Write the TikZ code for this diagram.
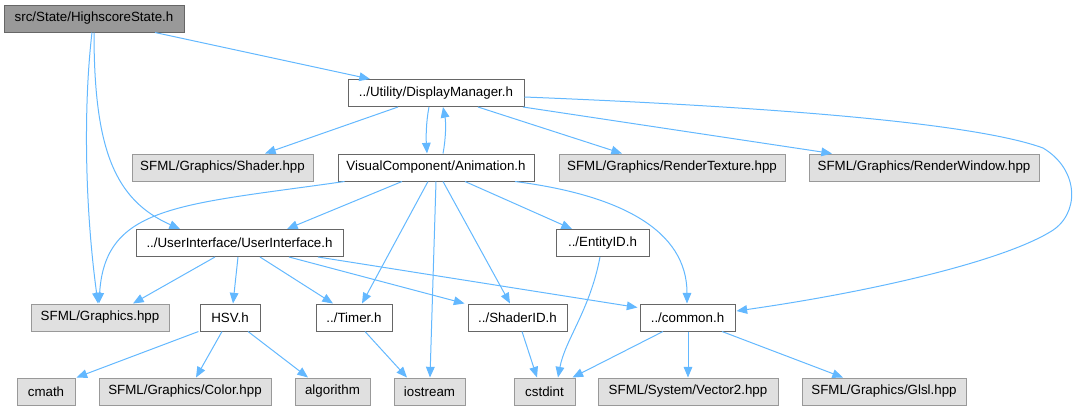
\documentclass[tikz,border=0pt]{standalone}
\usepackage{fontspec}
\setmainfont{Liberation Sans}
\usetikzlibrary{arrows.meta,calc}
\definecolor{edgeblue}{HTML}{63B8FF}
\definecolor{rootfill}{HTML}{999999}
\definecolor{darkborder}{HTML}{666666}
\definecolor{grayfill}{HTML}{E0E0E0}
\definecolor{grayborder}{HTML}{999999}
\begin{document}
\begin{tikzpicture}[x=0.75pt,y=-0.75pt,
  base/.style={rectangle,inner sep=0pt,line width=0.75pt,font=\fontsize{10pt}{12pt}\selectfont,minimum height=27*0.75pt},
  rootbox/.style={base,fill=rootfill,draw=darkborder},
  whitebox/.style={base,fill=white,draw=darkborder},
  graybox/.style={base,fill=grayfill,draw=grayborder},
  w/.style={minimum width=#1*0.75pt},
  dep/.style={draw=edgeblue,line width=0.75pt,-{Triangle[length=8pt,width=6.5pt]}}
]
\useasboundingbox (0,0) rectangle (1075,411);
% row 1
\node[rootbox,w=180] (root) at (94,18.5) {src/State/HighscoreState.h};
% row 2
\node[whitebox,w=176] (dm) at (436,93) {../Utility/DisplayManager.h};
% row 3
\node[graybox,w=181] (shader) at (222.5,167.5) {SFML/Graphics/Shader.hpp};
\node[whitebox,w=196] (anim) at (436,167.5) {VisualComponent/Animation.h};
\node[graybox,w=226] (rtex) at (672,167.5) {SFML/Graphics/RenderTexture.hpp};
\node[graybox,w=230] (rwin) at (924,167.5) {SFML/Graphics/RenderWindow.hpp};
% row 4
\node[whitebox,w=207] (ui) at (239.5,243) {../UserInterface/UserInterface.h};
\node[whitebox,w=93] (ent) at (602.5,243) {../EntityID.h};
% row 5
\node[graybox,w=138] (gfx) at (100,317.5) {SFML/Graphics.hpp};
\node[whitebox,w=60] (hsv) at (230,317.5) {HSV.h};
\node[whitebox,w=76] (timer) at (354,317.5) {../Timer.h};
\node[whitebox,w=99] (shid) at (517.5,317.5) {../ShaderID.h};
\node[whitebox,w=95] (common) at (687.5,317.5) {../common.h};
% row 6
\node[graybox,w=58] (cmath) at (46,391.5) {cmath};
\node[graybox,w=172] (color) at (185,391.5) {SFML/Graphics/Color.hpp};
\node[graybox,w=75] (algo) at (332.5,391.5) {algorithm};
\node[graybox,w=71] (ios) at (429.5,391.5) {iostream};
\node[graybox,w=61] (cstdint) at (544.5,391.5) {cstdint};
\node[graybox,w=180] (vec2) at (688,391.5) {SFML/System/Vector2.hpp};
\node[graybox,w=164] (glsl) at (884,391.5) {SFML/Graphics/Glsl.hpp};

% edges from root
\draw[dep] ($(root.south)+(61,0)$) -- ($(dm.north)+(-66,0)$);
\draw[dep] ($(root.south)+(-2,0)$) .. controls (84,100) and (84,200) .. ($(gfx.north)+(-2,0)$);
\draw[dep] ($(root.south)+(0,0)$) .. controls (94,150) and (115,200) .. ($(ui.north)+(-59.5,0)$);
% edges from DisplayManager
\draw[dep] ($(dm.south)+(-38,0)$) -- ($(shader.north)+(42.5,0)$);
\draw[dep] ($(dm.south)+(-7,0)$) .. controls (426,122) and (426,138) .. ($(anim.north)+(-9,0)$);
\draw[dep] ($(anim.north)+(7,0)$) .. controls (446,138) and (446,122) .. ($(dm.south)+(7,0)$);
\draw[dep] ($(dm.south)+(42,0)$) -- ($(rtex.north)+(-50,0)$);
\draw[dep] ($(dm.south)+(87,0)$) -- ($(rwin.north)+(-92,0)$);
\draw[dep] ($(dm.east)+(0,4)$) .. controls (800,108) and (980,125) .. (1043,148)
   .. controls (1080,170) and (1080,215) .. (1050,232)
   .. controls (1000,262) and (870,292) .. ($(common.east)+(1,-6.5)$);
% edges from Animation
\draw[dep] ($(anim.south west)+(7,0)$) .. controls (180,205) and (105,205) .. ($(gfx.north)+(-1,0)$);
\draw[dep] ($(anim.south)+(-34,0)$) -- ($(ui.north)+(47.5,0)$);
\draw[dep] ($(anim.south)+(-8,0)$) -- ($(timer.north)+(8,0)$);
\draw[dep] ($(anim.south)+(0,0)$) -- ($(ios.north)+(0.5,0)$);
\draw[dep] ($(anim.south)+(7,0)$) -- ($(shid.north)+(-7.5,0)$);
\draw[dep] ($(anim.south)+(29,0)$) -- ($(ent.north)+(-30.5,0)$);
\draw[dep] ($(anim.south)+(79,0)$) .. controls (620,195) and (687,230) .. ($(common.north)+(-0.5,0)$);
% edges from UserInterface
\draw[dep] ($(ui.south)+(-24.5,0)$) -- ($(gfx.north)+(33,0)$);
\draw[dep] ($(ui.south)+(-1.5,0)$) -- ($(hsv.north)+(3,0)$);
\draw[dep] ($(ui.south)+(20.5,0)$) -- ($(timer.north)+(-21,0)$);
\draw[dep] ($(ui.south)+(49.5,0)$) -- ($(shid.north west)+(-3,0)$);
\draw[dep] ($(ui.south)+(78.5,0)$) -- ($(common.north west)+(-2,4)$);
% edges from EntityID
\draw[dep] ($(ent.south)+(-2.5,0)$) .. controls (590,310) and (565,340) .. ($(cstdint.north)+(13.5,0)$);
% edges from HSV
\draw[dep] ($(hsv.south west)+(-1,0)$) -- ($(cmath.north east)+(1,0)$);
\draw[dep] ($(hsv.south)+(-8,0)$) -- ($(color.north)+(11,0)$);
\draw[dep] ($(hsv.south)+(18,0)$) -- ($(algo.north)+(-24.5,0)$);
% edges from Timer, ShaderID, common
\draw[dep] ($(timer.south)+(11,0)$) -- ($(ios.north)+(-22.5,0)$);
\draw[dep] ($(shid.south)+(4.5,0)$) -- ($(cstdint.north)+(-7.5,0)$);
\draw[dep] ($(common.south)+(-24.5,0)$) -- ($(cstdint.north east)+(-3,0)$);
\draw[dep] ($(common.south)+(0.5,0)$) -- (vec2.north);
\draw[dep] ($(common.south)+(34.5,0)$) -- ($(glsl.north)+(-41,0)$);
\end{tikzpicture}
\end{document}
